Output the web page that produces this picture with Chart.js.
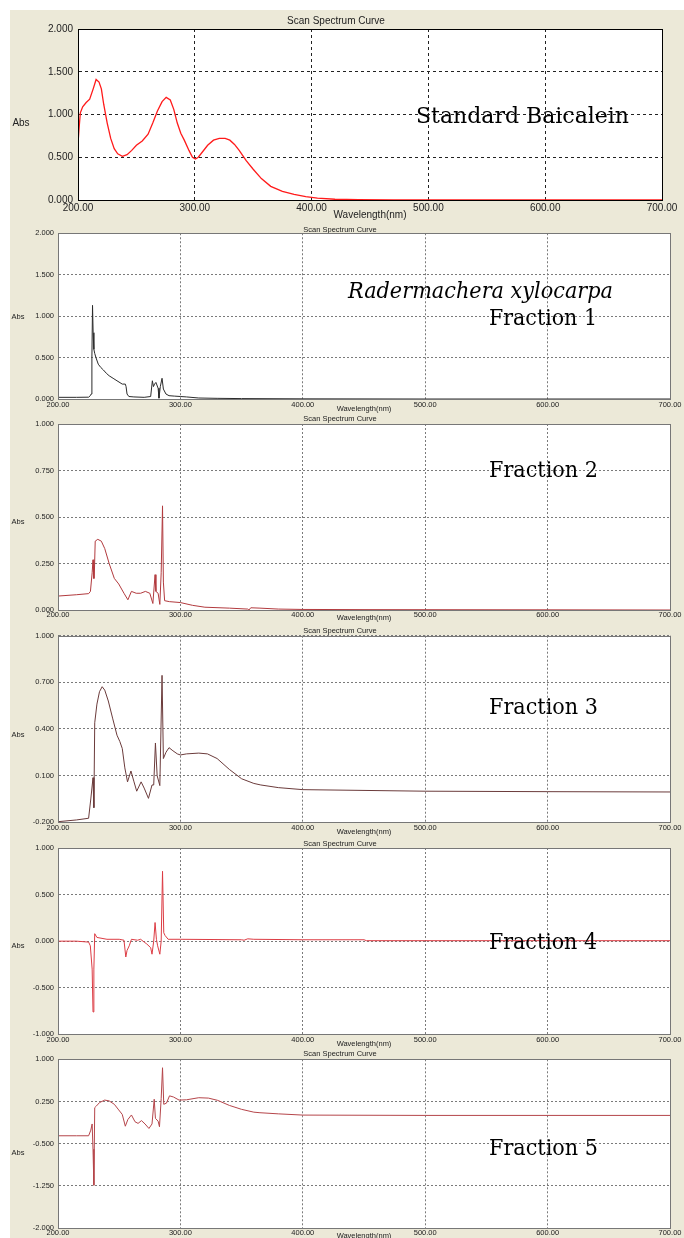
<!DOCTYPE html>
<html>
<head>
<meta charset="utf-8">
<script src="https://cdn.jsdelivr.net/npm/chart.js@4.4.1/dist/chart.umd.min.js"></script>
<style>
  html, body { margin: 0; padding: 0; background: #fff; }
  #page { position: relative; width: 684px; height: 1238px; overflow: hidden; }
  #bg { position: absolute; left: 10px; top: 10px; width: 674px; height: 1228px; background: #ece9d8; }
  canvas { position: absolute; left: 10px; }
</style>
</head>
<body>
<div id="page">
  <div id="bg"></div>
  <canvas id="c1"></canvas>
  <canvas id="c2"></canvas>
  <canvas id="c3"></canvas>
  <canvas id="c4"></canvas>
  <canvas id="c5"></canvas>
  <canvas id="c6"></canvas>
</div>
<script>
// --- DATA ---
const X_TICKS = [200, 300, 400, 500, 600, 700];

const baicaleinNm = [200, 201, 202, 204, 207, 210, 213, 215.5, 218, 220, 222, 225, 228, 231, 234, 238, 242, 246, 250, 255, 260, 264, 268, 272, 275.5, 279, 282, 285, 288, 291, 295, 298, 300.5, 303, 307, 311, 316, 321, 326, 330, 334, 338, 344, 350, 357, 365, 375, 385, 395, 405, 420, 440, 470, 500, 600, 700];
const baicaleinAbs = [0.66, 0.85, 1.02, 1.09, 1.14, 1.18, 1.30, 1.41, 1.38, 1.30, 1.12, 0.90, 0.72, 0.60, 0.54, 0.51, 0.53, 0.58, 0.64, 0.69, 0.77, 0.90, 1.04, 1.15, 1.20, 1.17, 1.06, 0.90, 0.78, 0.70, 0.58, 0.50, 0.48, 0.50, 0.57, 0.64, 0.70, 0.72, 0.72, 0.70, 0.65, 0.58, 0.46, 0.36, 0.25, 0.16, 0.10, 0.065, 0.04, 0.022, 0.009, 0.003, 0.001, 0, 0, 0];
const baicaleinTicks = [0, 0.5, 1.0, 1.5, 2.0];

const frac1Nm = [200, 215, 225, 226.4, 227.1, 227.7, 228.2, 228.7, 229.3, 230, 231, 232.9, 235, 237.1, 239.5, 241.8, 245, 248.2, 252.5, 255, 255.6, 256.4, 257.9, 262, 270.4, 275.7, 277.1, 278, 278.9, 280, 281.8, 282.5, 283.6, 285, 286.1, 288.2, 290.7, 295, 300, 305, 315, 330, 350, 400, 450, 500, 700];
const frac1Abs = [0.02, 0.02, 0.022, 0.04, 0.06, 0.5, 1.13, 0.80, 0.60, 0.55, 0.50, 0.42, 0.38, 0.35, 0.31, 0.28, 0.25, 0.22, 0.18, 0.18, 0.15, 0.06, 0.03, 0.025, 0.02, 0.03, 0.22, 0.15, 0.18, 0.20, 0.13, 0.01, 0.15, 0.25, 0.12, 0.06, 0.04, 0.035, 0.03, 0.025, 0.012, 0.008, 0.005, 0.002, 0.001, 0, 0];
const frac1Ticks = [0, 0.5, 1.0, 1.5, 2.0];

const frac2Nm = [200, 215, 225, 226.5, 227.9, 228.6, 229.2, 229.6, 230.4, 232.5, 235.4, 238.2, 241.8, 246, 249.6, 253.9, 257.1, 260, 263.9, 267.5, 271.4, 275, 277.5, 279.3, 280, 281.8, 283.2, 284.3, 285.4, 286.1, 287.1, 291, 300, 310, 320, 340, 355, 356, 357.5, 365, 380, 400, 450, 600, 700];
const frac2Abs = [0.075, 0.082, 0.088, 0.10, 0.20, 0.27, 0.17, 0.17, 0.37, 0.38, 0.37, 0.33, 0.25, 0.17, 0.14, 0.09, 0.055, 0.10, 0.09, 0.09, 0.10, 0.09, 0.035, 0.19, 0.10, 0.09, 0.03, 0.20, 0.56, 0.15, 0.05, 0.045, 0.04, 0.025, 0.015, 0.01, 0.005, 0.0, 0.012, 0.01, 0.005, 0.003, 0.002, 0.001, 0];
const frac2Ticks = [0, 0.25, 0.5, 0.75, 1.0];

const frac3Nm = [200, 215, 225, 226.8, 228.6, 229.3, 230, 231.8, 233.9, 236.1, 238.2, 241.1, 244.6, 248.2, 250.5, 252.5, 254.6, 256.8, 259.6, 262.1, 264.3, 267.9, 270.4, 273.9, 276.8, 278.2, 279.6, 281, 283.2, 285, 286.1, 288.2, 290.7, 293.9, 297.5, 300, 305, 315, 322.1, 330, 340, 350, 360, 365.7, 380, 400, 500, 600, 700];
const frac3Abs = [-0.196, -0.185, -0.174, -0.05, 0.087, -0.106, 0.44, 0.56, 0.64, 0.672, 0.65, 0.58, 0.47, 0.36, 0.32, 0.275, 0.15, 0.06, 0.13, 0.06, 0.0, 0.06, 0.02, -0.046, 0.04, 0.04, 0.31, 0.10, 0.036, 0.745, 0.21, 0.25, 0.28, 0.26, 0.24, 0.233, 0.24, 0.245, 0.24, 0.21, 0.14, 0.08, 0.05, 0.04, 0.023, 0.01, 0.0, -0.003, -0.005];
const frac3Ticks = [-0.2, 0.1, 0.4, 0.7, 1.0];

const frac4Nm = [200, 215, 225, 226.4, 227.9, 228.6, 229.3, 230, 231.8, 240, 250, 253.9, 255.4, 256.4, 258.2, 260, 265, 267.5, 270.4, 272.5, 275.7, 276.8, 278.2, 279.3, 280.4, 281.4, 283.2, 284.3, 285.4, 286.4, 287.5, 290, 300, 350, 352, 355, 360, 400, 450, 452, 500, 700];
const frac4Abs = [0.0, 0.0, -0.01, -0.05, -0.3, -0.76, -0.3, 0.08, 0.04, 0.02, 0.02, 0.01, -0.17, -0.10, -0.05, 0.02, 0.01, 0.02, -0.01, -0.03, -0.07, -0.14, 0.0, 0.2, 0.02, -0.05, -0.14, 0.0, 0.75, 0.09, 0.06, 0.02, 0.02, 0.015, 0.01, 0.025, 0.02, 0.015, 0.015, 0.005, 0.005, 0.005];
const frac4Ticks = [-1.0, -0.5, 0, 0.5, 1.0];

const frac5Nm = [200, 215, 225, 226.8, 227.9, 228.6, 229.3, 230, 231.4, 233.9, 238.2, 241.8, 246, 249.6, 252.5, 255, 257.1, 260, 262.9, 265.4, 268.2, 271.1, 274.3, 276.8, 278.6, 279.6, 281.8, 282.9, 284.3, 285.4, 286.4, 288.6, 291.1, 294.3, 298.9, 305, 315, 322.9, 330.4, 340, 350, 360, 365, 380, 400, 500, 700];
const frac5Abs = [-0.36, -0.36, -0.36, -0.26, -0.15, -0.6, -1.24, 0.14, 0.17, 0.23, 0.275, 0.26, 0.20, 0.10, 0.02, -0.19, -0.07, 0.01, -0.11, -0.14, -0.09, -0.15, -0.23, -0.15, 0.29, -0.05, -0.10, -0.20, 0.30, 0.85, 0.20, 0.22, 0.35, 0.33, 0.275, 0.28, 0.317, 0.31, 0.27, 0.18, 0.11, 0.06, 0.05, 0.03, 0.008, 0.002, 0.002];
const frac5Ticks = [-2.0, -1.25, -0.5, 0.25, 1.0];

// --- PANEL LAYOUT (page pixels) ---
const CANVAS_LEFT = 10;
const CANVAS_W = 674;
const SANS = "'Liberation Sans', Arial, sans-serif";
const SERIF = "'DejaVu Serif', serif";

const PANELS = [
  { id: 'c1', nm: baicaleinNm, abs: baicaleinAbs, ticks: baicaleinTicks, color: '#ff1a1a', lineW: 1.3,
    top: 10, height: 210, titleY: 21, plotTop: 29, plotBottom: 200, tickY: 208, xlabelY: 216,
    plotLeft: 78, plotRight: 662, fs: 10, grid: '#222', frame: '#000', dash: [3, 3], absX: 21, absDy: 9,
    notes: [{ text: 'Standard Baicalein', x: 416, y: 123, w: 227 }] },
  { id: 'c2', nm: frac1Nm, abs: frac1Abs, ticks: frac1Ticks, color: '#2b2b2b', lineW: 1,
    top: 220, height: 193, titleY: 229.5, plotTop: 233, plotBottom: 399, tickY: 404.5, xlabelY: 409.5,
    plotLeft: 58, plotRight: 670, fs: 7.5, grid: '#7a7a7a', frame: '#777', dash: [2, 2], absX: 18, absDy: 1,
    notes: [{ text: 'Radermachera xylocarpa', x: 348, y: 298, w: 265, italic: true },
            { text: 'Fraction 1', x: 489, y: 325, w: 108 }] },
  { id: 'c3', nm: frac2Nm, abs: frac2Abs, ticks: frac2Ticks, color: '#b23a3e', lineW: 1,
    top: 413, height: 209, titleY: 419.3, plotTop: 424, plotBottom: 610, tickY: 615.3, xlabelY: 620,
    plotLeft: 58, plotRight: 670, fs: 7.5, grid: '#7a7a7a', frame: '#777', dash: [2, 2], absX: 18, absDy: 5,
    notes: [{ text: 'Fraction 2', x: 489, y: 476.5, w: 109 }] },
  { id: 'c4', nm: frac3Nm, abs: frac3Abs, ticks: frac3Ticks, color: '#6b3b3b', lineW: 1,
    top: 622, height: 214, titleY: 631, plotTop: 635.7, plotBottom: 822.3, tickY: 827.7, xlabelY: 832.3,
    plotLeft: 58, plotRight: 670, fs: 7.5, grid: '#7a7a7a', frame: '#777', dash: [2, 2], absX: 18, absDy: 6,
    notes: [{ text: 'Fraction 3', x: 489, y: 714.3, w: 109 }] },
  { id: 'c5', nm: frac4Nm, abs: frac4Abs, ticks: frac4Ticks, color: '#dc3c44', lineW: 1,
    top: 836, height: 212, titleY: 843.7, plotTop: 848, plotBottom: 1034.3, tickY: 1040, xlabelY: 1044.7,
    plotLeft: 58, plotRight: 670, fs: 7.5, grid: '#7a7a7a', frame: '#777', dash: [2, 2], absX: 18, absDy: 5,
    notes: [{ text: 'Fraction 4', x: 489, y: 949, w: 108 }] },
  { id: 'c6', nm: frac5Nm, abs: frac5Abs, ticks: frac5Ticks, color: '#b5454a', lineW: 1,
    top: 1048, height: 192, titleY: 1054.3, plotTop: 1059.3, plotBottom: 1228, tickY: 1232.5, xlabelY: 1237,
    plotLeft: 58, plotRight: 670, fs: 7.5, grid: '#7a7a7a', frame: '#777', dash: [2, 2], absX: 18, absDy: 9,
    notes: [{ text: 'Fraction 5', x: 489, y: 1155.3, w: 109 }] }
];

// white plot face, frame round the plot, "Abs" and the big hand-added captions
const scanDecor = {
  id: 'scanDecor',
  beforeDraw(chart) {
    const { ctx, chartArea: a } = chart;
    ctx.save();
    ctx.fillStyle = '#fff';
    ctx.fillRect(a.left, a.top, a.right - a.left, a.bottom - a.top);
    ctx.restore();
  },
  afterDraw(chart, args, o) {
    const { ctx, chartArea: a } = chart;
    const L = Math.round(a.left), T = Math.round(a.top);
    ctx.save();
    ctx.strokeStyle = o.frame;
    ctx.lineWidth = 1;
    ctx.setLineDash([]);
    ctx.strokeRect(L + 0.5, T + 0.5, Math.round(a.right) - L, Math.round(a.bottom) - T);

    ctx.fillStyle = '#222';
    ctx.font = o.fs + 'px ' + SANS;
    ctx.textAlign = 'center';
    ctx.textBaseline = 'middle';
    ctx.fillText('Abs', o.absX, (a.top + a.bottom) / 2 + o.absDy);

    ctx.fillStyle = '#000';
    ctx.textAlign = 'left';
    ctx.textBaseline = 'alphabetic';
    o.notes.forEach(n => {
      ctx.font = (n.italic ? 'italic ' : '') + '22px ' + SERIF;
      ctx.fillText(n.text, n.x, n.y, n.w);
    });
    ctx.restore();
  }
};

function buildPanel(p) {
  const canvas = document.getElementById(p.id);
  canvas.width = CANVAS_W;
  canvas.height = p.height;
  canvas.style.top = p.top + 'px';

  const fs = p.fs;
  // title box: padTop + fs + padBottom ends exactly at the plot top
  const titlePadTop = Math.max(0, p.titleY - p.top - fs / 2);
  const titlePadBottom = Math.max(0, p.plotTop - p.top - fs - titlePadTop);
  const xAxisH = p.top + p.height - p.plotBottom;
  const tickPad = Math.max(0, p.tickY - p.plotBottom - fs / 2);
  const xlabelPad = Math.max(0, p.top + p.height - p.xlabelY - fs / 2);

  const data = p.nm.map((x, i) => ({ x: x, y: p.abs[i] }));

  return new Chart(canvas.getContext('2d'), {
    type: 'line',
    data: {
      datasets: [{ data: data, borderColor: p.color, borderWidth: p.lineW, pointRadius: 0, tension: 0, fill: false }]
    },
    options: {
      responsive: false,
      animation: false,
      devicePixelRatio: 1,
      layout: { padding: { left: 0, top: 0, bottom: 0, right: CANVAS_LEFT + CANVAS_W - p.plotRight } },
      plugins: {
        legend: { display: false },
        tooltip: { enabled: false },
        title: {
          display: true, text: 'Scan Spectrum Curve', color: '#222',
          font: { family: SANS, size: fs, weight: 'normal', lineHeight: 1 },
          padding: { top: titlePadTop, bottom: titlePadBottom }
        },
        scanDecor: { frame: p.frame, fs: fs, absX: p.absX - CANVAS_LEFT, absDy: p.absDy,
          notes: p.notes.map(n => ({ ...n, x: n.x - CANVAS_LEFT, y: n.y - p.top })) }
      },
      scales: {
        x: {
          type: 'linear', min: 200, max: 700,
          afterBuildTicks: axis => { axis.ticks = X_TICKS.map(v => ({ value: v })); },
          afterFit: axis => { axis.height = xAxisH; },
          ticks: { color: '#222', padding: tickPad, maxRotation: 0, font: { family: SANS, size: fs, lineHeight: 1 },
            callback: v => Number(v).toFixed(2) },
          grid: { color: p.grid, lineWidth: 1, drawTicks: false },
          border: { color: p.frame, dash: p.dash },
          title: { display: true, text: 'Wavelength(nm)', color: '#222',
            font: { family: SANS, size: fs, lineHeight: 1 }, padding: { top: 0, bottom: xlabelPad } }
        },
        y: {
          min: p.ticks[0], max: p.ticks[p.ticks.length - 1],
          afterBuildTicks: axis => { axis.ticks = p.ticks.map(v => ({ value: v })); },
          afterFit: axis => { axis.width = p.plotLeft - CANVAS_LEFT; },
          ticks: { color: '#222', padding: fs === 10 ? 5 : 4, font: { family: SANS, size: fs, lineHeight: 1 },
            callback: v => Number(v).toFixed(3) },
          grid: { color: p.grid, lineWidth: 1, drawTicks: false },
          border: { color: p.frame, dash: p.dash }
        }
      }
    },
    plugins: [scanDecor]
  });
}

PANELS.forEach(buildPanel);
</script>
</body>
</html>
